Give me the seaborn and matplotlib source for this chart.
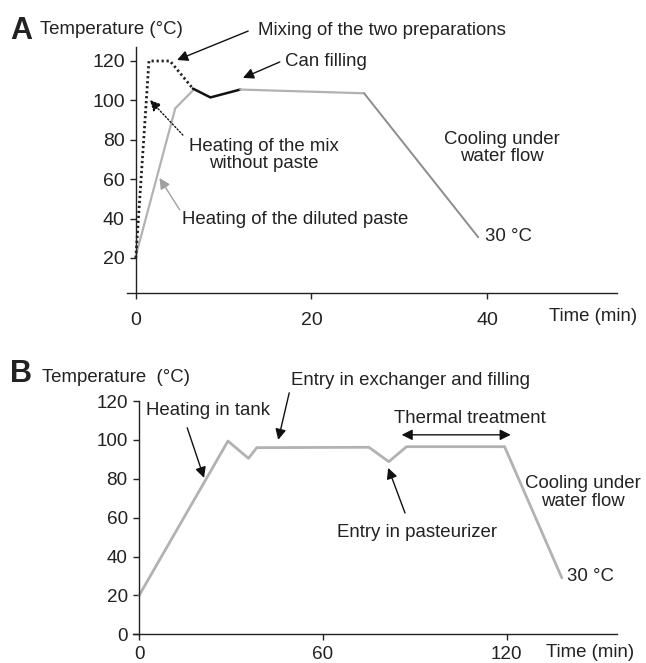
import matplotlib
matplotlib.use("Agg")
import matplotlib.pyplot as plt
import seaborn as sns
import pandas as pd

# ---------------- data ----------------
# Panel A
a_mix_t = [0, 1.5, 3.9, 6.5]
a_mix_T = [20, 120, 120, 106]
a_paste_t = [0, 4.5, 6.5]
a_paste_T = [21, 96, 105]
a_fill_t = [6.5, 8.5, 11.9]
a_fill_T = [106, 101.5, 105.5]
a_hold_t = [11.9, 26]
a_hold_T = [105.5, 103.6]
a_cool_t = [26, 39]
a_cool_T = [103.6, 30.5]
a_xticks = [0, 20, 40]
a_yticks = [20, 40, 60, 80, 100, 120]

# Panel B
b_t = [0, 29, 35.7, 38.4, 75, 81.5, 87.3, 119.3, 138]
b_T = [20, 99.4, 90.5, 96, 96.2, 88.8, 96.5, 96.5, 29]
b_xticks = [0, 60, 120]
b_yticks = [0, 20, 40, 60, 80, 100, 120]

sns.set_theme(style="ticks")
plt.rcParams["font.family"] = ["Liberation Sans", "DejaVu Sans"]
FS = 13.4

fig = plt.figure(figsize=(6.46, 6.63), dpi=100)
W, H = 646, 663
def fx(px): return px / W
def fy(py): return 1 - py / H

axA = fig.add_axes([fx(127), fy(293), fx(617) - fx(127), fy(47) - fy(293)])
axB = fig.add_axes([fx(133), fy(634.3), fx(617) - fx(133), fy(401) - fy(634.3)])

LG = "#b2b2b2"
DG = "#8c8c8c"

def line(ax, t, T, **kw):
    df = pd.DataFrame({"t": t, "T": T})
    sns.lineplot(data=df, x="t", y="T", ax=ax, sort=False, estimator=None, **kw)

# Panel A lines
line(axA, a_paste_t, a_paste_T, color=LG, lw=1.6)
line(axA, a_mix_t, a_mix_T, color="#222222", lw=2.0, linestyle=(0, (0.8, 1.0)))
line(axA, a_fill_t, a_fill_T, color="#111111", lw=1.8)
line(axA, a_hold_t, a_hold_T, color=LG, lw=1.6)
line(axA, a_cool_t, a_cool_T, color=DG, lw=1.4)

# Panel B line
line(axB, b_t, b_T, color=LG, lw=2.0)

for ax in (axA, axB):
    ax.set_xlabel("")
    ax.set_ylabel("")
    for s in ("top", "right"):
        ax.spines[s].set_visible(False)
    for s in ("left", "bottom"):
        ax.spines[s].set_color("#222222")
        ax.spines[s].set_linewidth(1.0)
    ax.spines["left"].set_position(("data", 0))
    ax.set_facecolor("none")

axA.tick_params(axis="both", direction="out", length=4.5, width=1.0,
                colors="#222222", labelsize=14, labelcolor="#222222")
axA.tick_params(axis="x", pad=9)
axA.tick_params(axis="y", pad=3.5)
axB.tick_params(axis="both", direction="out", length=4.2, width=1.0,
                colors="#222222", labelsize=13.6, labelcolor="#222222")
axB.tick_params(axis="x", pad=4)
axB.tick_params(axis="y", pad=4)

axA.set_xlim(-1.0, 54.8)
axA.set_ylim(2.2, 127.1)
axA.set_xticks(a_xticks)
axA.set_yticks(a_yticks)

axB.set_xlim(-2.0, 156.0)
axB.set_ylim(0, 120)
axB.set_xticks(b_xticks)
axB.set_yticks(b_yticks)

# Panel labels and axis titles
fig.text(fx(10), fy(31), "A", fontsize=22, fontweight="bold", ha="left", va="center", color="#222222")
fig.text(fx(40), fy(29), "Temperature (°C)", fontsize=FS, ha="left", va="center", color="#222222")
fig.text(fx(10), fy(374), "B", fontsize=22, fontweight="bold", ha="left", va="center", color="#222222")
fig.text(fx(42), fy(378), "Temperature  (°C)", fontsize=FS, ha="left", va="center", color="#222222")

txt = dict(fontsize=FS, color="#222222", clip_on=False)
arr = dict(arrowstyle="-|>", mutation_scale=16, lw=1.0, color="#111111", shrinkA=0, shrinkB=0)
LS = 1.05

# Panel A annotations
axA.text(13.9, 135.7, "Mixing of the two preparations", ha="left", va="center", **txt)
axA.annotate("", xy=(4.7, 120.5), xytext=(12.8, 135.2), arrowprops=arr, annotation_clip=False)
axA.text(17.0, 119.5, "Can filling", ha="left", va="center", **txt)
axA.annotate("", xy=(12.2, 111.4), xytext=(16.4, 119.5), arrowprops=arr, annotation_clip=False)
axA.text(14.6, 72.3, "Heating of the mix\nwithout paste", ha="center", va="center",
         linespacing=LS, **txt)
axA.annotate("", xy=(1.6, 100.2), xytext=(5.36, 82.4),
             arrowprops=dict(arr, linestyle=(0, (1, 1.5))), annotation_clip=False)
axA.text(5.24, 39.3, "Heating of the diluted paste", ha="left", va="center", **txt)
axA.annotate("", xy=(2.7, 60.6), xytext=(5.0, 44.4),
             arrowprops=dict(arr, color="#a0a0a0"), annotation_clip=False)
axA.text(41.7, 75.8, "Cooling under\nwater flow", ha="center", va="center",
         linespacing=LS, **txt)
axA.text(39.8, 30.7, "30 °C", ha="left", va="center", **txt)
axA.text(47.1, -9.5, "Time (min)", ha="left", va="center", **txt)

# Panel B annotations
axB.text(2.3, 115, "Heating in tank", ha="left", va="center", **txt)
axB.annotate("", xy=(21.2, 80.4), xytext=(15.7, 106.2), arrowprops=arr, annotation_clip=False)
axB.text(49.6, 130.8, "Entry in exchanger and filling", ha="left", va="center", **txt)
axB.annotate("", xy=(45.4, 100.0), xytext=(49.0, 124.2), arrowprops=arr, annotation_clip=False)
axB.text(107.9, 110.8, "Thermal treatment", ha="center", va="center", **txt)
axB.annotate("", xy=(121.3, 102.6), xytext=(85.7, 102.6),
             arrowprops=dict(arr, arrowstyle="<|-|>"), annotation_clip=False)
axB.text(90.7, 52.6, "Entry in pasteurizer", ha="center", va="center", **txt)
axB.annotate("", xy=(81.3, 85.6), xytext=(86.8, 62.4), arrowprops=arr, annotation_clip=False)
axB.text(144.9, 72.8, "Cooling under\nwater flow", ha="center", va="center",
         linespacing=LS, **txt)
axB.text(139.7, 29.5, "30 °C", ha="left", va="center", **txt)
axB.text(132.8, -9.5, "Time (min)", ha="left", va="center", **txt)

fig.savefig("out.png", dpi=100)
